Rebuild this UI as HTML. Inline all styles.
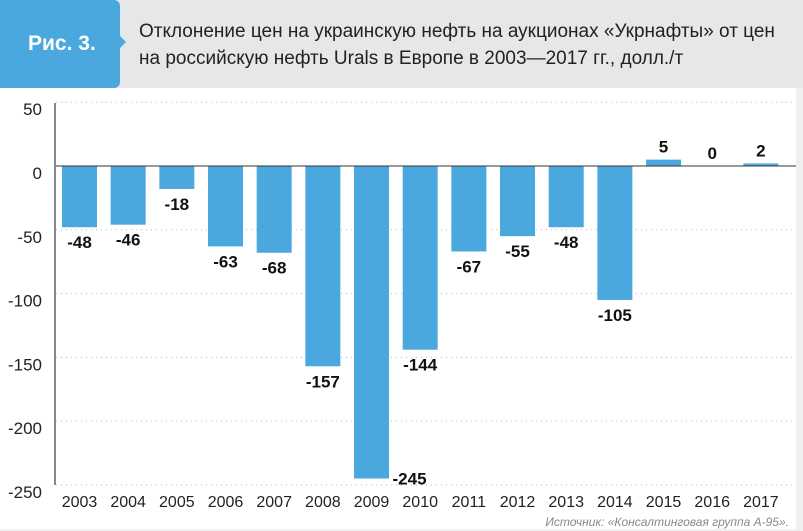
<!DOCTYPE html>
<html><head><meta charset="utf-8"><style>
body{margin:0;width:803px;height:531px;background:#f0f0f0;font-family:"Liberation Sans",sans-serif;position:relative;overflow:hidden}
#hdr{position:absolute;left:0;top:0;width:803px;height:88px;background:#e6e7e9}
#badge{position:absolute;left:0;top:0;width:120px;height:88px;background:#4aa8de;border-radius:0 6px 6px 0}
#arrow{position:absolute;left:120px;top:36px;width:0;height:0;border-top:6px solid transparent;border-bottom:6px solid transparent;border-left:6px solid #4aa8de}
#badge span{position:absolute;left:28px;top:32px;color:#fff;font-weight:bold;font-size:21px}
#title{position:absolute;left:139px;top:18px;font-size:19px;line-height:27px;color:#222}
#panel{position:absolute;left:0;top:88px;width:796px;height:441px;background:#fff}
#src{position:absolute;right:14px;bottom:2px;font-size:12px;font-style:italic;color:#888}
</style></head><body>
<div id="hdr"></div>
<div id="badge"><span>Рис. 3.</span></div>
<div id="arrow"></div>
<div id="title">Отклонение цен на украинскую нефть на аукционах «Укрнафты» от цен<br>на российскую нефть Urals в Европе в 2003—2017 гг., долл./т</div>
<div id="panel"></div>
<svg id="chart" width="803" height="531" style="position:absolute;left:0;top:0"></svg>
<div id="src">Источник: «Консалтинговая группа А-95».</div>
<script>
const categories=["2003","2004","2005","2006","2007","2008","2009","2010","2011","2012","2013","2014","2015","2016","2017"];
const values=[-48,-46,-18,-63,-68,-157,-245,-144,-67,-55,-48,-105,5,0,2];
const ticks=[50,0,-50,-100,-150,-200,-250];
const NS="http://www.w3.org/2000/svg";
const svg=document.getElementById('chart');
const y=v=>166-(v)*1.2756;
const xc=i=>79.5+i*48.67;
function el(t,a){const e=document.createElementNS(NS,t);for(const k in a)e.setAttribute(k,a[k]);svg.appendChild(e);return e;}
ticks.forEach(t=>{
 if(t!==0){const g=el('line',{x1:56,x2:796,y1:y(t),y2:y(t),stroke:'#bbb','stroke-width':1,'stroke-dasharray':'1 4'});
 
 }
 const tx=el('text',{x:42,y:y(t)+13,'text-anchor':'end','font-size':17,fill:'#222','font-family':'Liberation Sans'});
 tx.textContent=t;
 
 
});
values.forEach((v,i)=>{
 const top=Math.min(y(v),y(0)),h=Math.abs(y(v)-y(0));
 const r=el('rect',{x:xc(i)-17.5,y:top,width:35,height:Math.max(h,0.5),fill:'#4aa8de'});
 
 
 let lx=xc(i),ly;
 if(v>0)ly=y(v)-7;else if(v===0)ly=y(0)-7;else ly=y(v)+21;
 if(v===-245){lx=xc(i)+38;ly=y(v)+6;}
 const t=el('text',{x:lx,y:ly,'text-anchor':'middle','font-size':17,'font-weight':'bold',fill:'#111','font-family':'Liberation Sans'});
 t.textContent=v;
 
 
 const c=el('text',{x:xc(i),y:507,'text-anchor':'middle','font-size':16,fill:'#222','font-family':'Liberation Sans'});
 c.textContent=categories[i];
 
 
});
const z=el('line',{x1:55,x2:796,y1:y(0),y2:y(0),stroke:'#333','stroke-width':1});


const ax=el('line',{x1:55,x2:55,y1:103,y2:485,stroke:'#888','stroke-width':2});


</script>
</body></html>
